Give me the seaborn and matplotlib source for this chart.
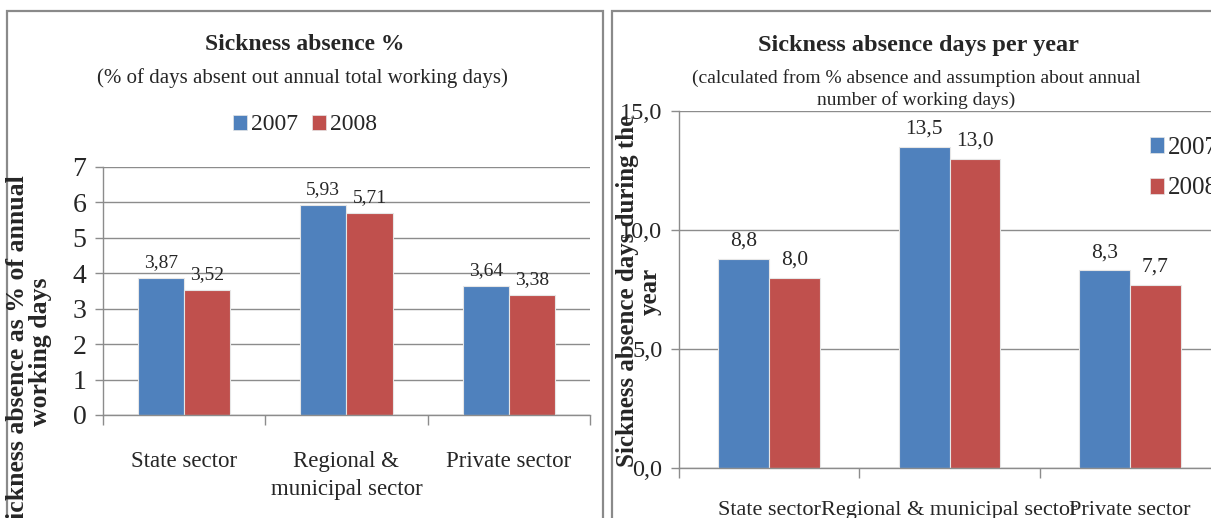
import matplotlib
matplotlib.use("Agg")
import matplotlib.pyplot as plt
import seaborn as sns
import pandas as pd
from matplotlib.patches import Rectangle, Patch

# ---- data ----
sectors_pct = ["State sector", "Regional &\nmunicipal sector", "Private sector"]
sectors_days = ["State sector", "Regional & municipal sector", "Private sector"]
years = ["2007", "2008"]
pct_2007 = [3.87, 5.93, 3.64]
pct_2008 = [3.52, 5.71, 3.38]
days_2007 = [8.8, 13.5, 8.3]
days_2008 = [8.0, 13.0, 7.7]
pct_ticks = [0, 1, 2, 3, 4, 5, 6, 7]
days_ticks = [0.0, 5.0, 10.0, 15.0]

BLUE = "#4F81BD"
RED = "#C0504D"
GRID = "#8C8C8C"
FRAME = "#8A8A8A"

sns.set_theme(style="white")
plt.rcParams["font.family"] = ["Liberation Serif", "DejaVu Serif"]

W, H = 1211, 518
fig = plt.figure(figsize=(W / 100, H / 100), dpi=100)


def px_axes(x0, y_top, x1, y_bot):
    return fig.add_axes([x0 / W, (H - y_bot) / H, (x1 - x0) / W, (y_bot - y_top) / H])


def long_frame(sectors, v07, v08):
    return pd.DataFrame({
        "sector": sectors * 2,
        "year": [years[0]] * len(sectors) + [years[1]] * len(sectors),
        "value": list(v07) + list(v08),
    })


def style_axes(ax, ymax, yticks, fmt):
    ax.set_xlim(-0.5, 2.5)
    ax.set_ylim(0, ymax)
    ax.set_yticks(yticks)
    ax.set_yticklabels([fmt(t) for t in yticks])
    ax.yaxis.grid(True, color=GRID, lw=1)
    ax.xaxis.grid(False)
    ax.set_axisbelow(True)
    for s in ["top", "right"]:
        ax.spines[s].set_visible(False)
    for s in ["left", "bottom"]:
        ax.spines[s].set_color(GRID)
        ax.spines[s].set_linewidth(1)
    ax.set_xlabel("")
    ax.set_ylabel("")
    ax.set_xticks([-0.5, 0.5, 1.5, 2.5], minor=True)
    ax.tick_params(axis="x", which="minor", length=7, color=GRID, width=1, direction="out", bottom=True)
    ax.tick_params(axis="x", which="major", length=0)
    ax.tick_params(axis="y", which="major", length=6, color=GRID, width=1, direction="out", left=True)
    ax.patch.set_alpha(0)


# ---- panel frames ----
fig.add_artist(Rectangle((7 / W, (H - 540) / H), 596 / W, 529 / H, transform=fig.transFigure,
                         fill=False, edgecolor=FRAME, lw=1.6))
fig.add_artist(Rectangle((612 / W, (H - 540) / H), 640 / W, 529 / H, transform=fig.transFigure,
                         fill=False, edgecolor=FRAME, lw=1.6))

# ---- left chart: percentage ----
ax1 = px_axes(103, 167, 590, 415)
df1 = long_frame(sectors_pct, pct_2007, pct_2008)
sns.barplot(data=df1, x="sector", y="value", hue="year", palette=[BLUE, RED],
            width=0.57, saturation=1, edgecolor="#E6E6E6", linewidth=0.8,
            legend=False, ax=ax1)
style_axes(ax1, 7, pct_ticks, lambda t: f"{t:d}")
ax1.tick_params(axis="y", labelsize=20, pad=6)
ax1.tick_params(axis="x", labelsize=16.5, pad=26)
for lbl in ax1.get_xticklabels():
    lbl.set_linespacing(1.45)
for cont, vals in zip(ax1.containers, [pct_2007, pct_2008]):
    ax1.bar_label(cont, labels=[f"{v:.2f}".replace(".", ",") for v in vals],
                  padding=5, fontsize=14)

fig.text(305 / W, 1 - 45 / H, "Sickness absence %", ha="center", va="center",
         fontsize=17, fontweight="bold")
fig.text(302 / W, 1 - 78 / H, "(% of days absent out annual total working days)",
         ha="center", va="center", fontsize=15)
handles = [Patch(facecolor=BLUE, edgecolor="#E6E6E6", lw=0.5),
           Patch(facecolor=RED, edgecolor="#E6E6E6", lw=0.5)]
fig.legend(handles, years, loc="center", bbox_to_anchor=(305 / W, 1 - 125 / H), ncol=2,
           frameon=False, fontsize=17, handlelength=0.6, handleheight=0.6,
           handletextpad=0.15, columnspacing=0.6)
fig.text(29 / W, 1 - 175 / H, "sickness absence as % of annual\nworking days",
         rotation=90, ha="center", va="top", fontsize=18.5, fontweight="bold",
         multialignment="center", linespacing=0.95)

# ---- right chart: days per year ----
ax2 = px_axes(679, 111, 1220, 468)
df2 = long_frame(sectors_days, days_2007, days_2008)
sns.barplot(data=df2, x="sector", y="value", hue="year", palette=[BLUE, RED],
            width=0.565, saturation=1, edgecolor="#E6E6E6", linewidth=0.8,
            legend=False, ax=ax2)
style_axes(ax2, 15, days_ticks, lambda t: f"{t:.1f}".replace(".", ","))
ax2.tick_params(axis="y", labelsize=17.5, pad=6)
ax2.tick_params(axis="x", labelsize=16, pad=24)
for cont, vals in zip(ax2.containers, [days_2007, days_2008]):
    ax2.bar_label(cont, labels=[f"{v:.1f}".replace(".", ",") for v in vals],
                  padding=6, fontsize=15.5)

fig.text(918 / W, 1 - 45 / H, "Sickness absence days per year", ha="center", va="center",
         fontsize=17.5, fontweight="bold")
fig.text(916 / W, 1 - 89 / H,
         "(calculated from % absence and assumption about annual\nnumber of working days)",
         ha="center", va="center", fontsize=14, linespacing=1.3)
fig.legend(handles, years, loc="center left", bbox_to_anchor=(1150 / W, 1 - 168 / H), ncol=1,
           frameon=False, fontsize=18, handlelength=0.55, handleheight=0.6,
           handletextpad=0.15, labelspacing=0.75, borderpad=0, borderaxespad=0)
fig.text(639 / W, 1 - 291 / H, "Sickness absence days during the\nyear",
         rotation=90, ha="center", va="center", fontsize=18, fontweight="bold",
         multialignment="center", linespacing=0.95)

fig.savefig("out.png", dpi=100, facecolor="white")
